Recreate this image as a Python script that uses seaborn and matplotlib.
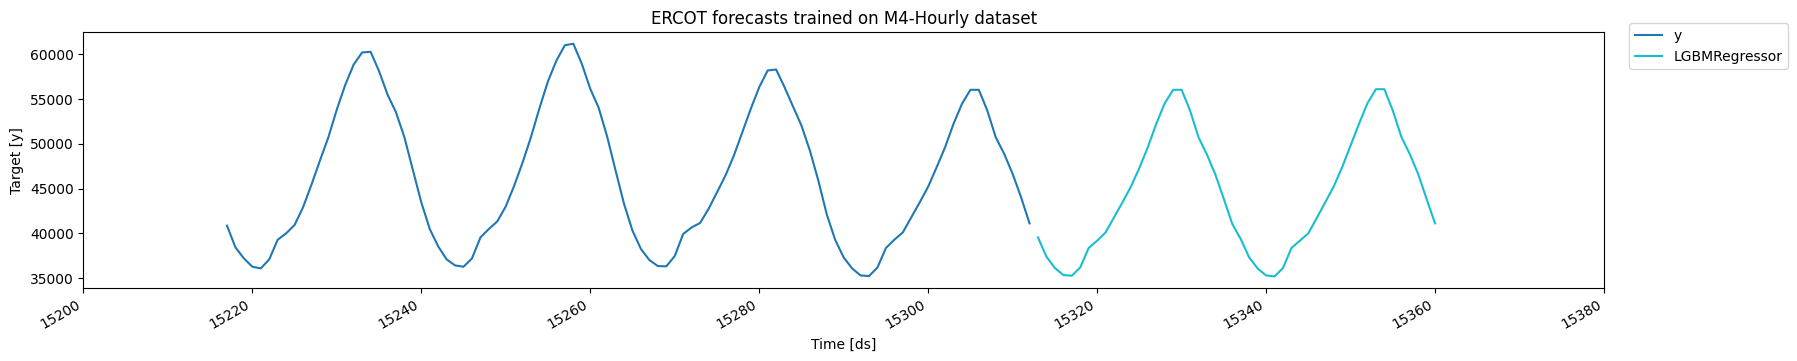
import numpy as np
import pandas as pd
import seaborn as sns
import matplotlib
matplotlib.use("Agg")
import matplotlib.pyplot as plt

# valores (ERCOT, M4-Hourly)
ds_hist = list(range(15217, 15313))
y_hist = [40850, 38425, 37195, 36264, 36077, 37084, 39284, 39993, 40925, 42900,
          45437, 48121, 50730, 53826, 56589, 58860, 60202, 60280, 58110, 55504,
          53524, 50730, 47081, 43457, 40481, 38535, 37084, 36409, 36264, 37195,
          39542, 40481, 41331, 43009, 45325, 47931, 50806, 54016, 56992, 59307,
          61019, 61175, 58938, 56142, 54016, 50806, 47003, 43278, 40291, 38244,
          37013, 36342, 36305, 37461, 39922, 40660, 41152, 42718, 44575, 46443,
          48680, 51287, 53904, 56320, 58189, 58300, 56320, 54162, 52036, 49240,
          45884, 42100, 39251, 37304, 36074, 35291, 35224, 36186, 38356, 39284,
          40101, 41779, 43457, 45213, 47372, 49609, 52226, 54464, 56030, 56030,
          53714, 50730, 48871, 46633, 44016, 41108]

ds_fcst = list(range(15313, 15361))
y_fcst = [39542, 37383, 36119, 35336, 35260, 36186, 38356, 39172, 40101, 41779,
          43457, 45213, 47305, 49609, 52226, 54531, 56030, 56030, 53714, 50730,
          48792, 46555, 43834, 41040, 39362, 37300, 36074, 35291, 35179, 36119,
          38356, 39172, 39993, 41712, 43457, 45213, 47372, 49799, 52226, 54531,
          56097, 56097, 53714, 50806, 48871, 46633, 43834, 41108]

serie_names = ["y", "LGBMRegressor"]
cores = {"y": "#1f77b4", "LGBMRegressor": "#17becf"}

df = pd.concat([
    pd.DataFrame({"ds": ds_hist, "valor": y_hist, "serie": "y"}),
    pd.DataFrame({"ds": ds_fcst, "valor": y_fcst, "serie": "LGBMRegressor"}),
])

fig = plt.figure(figsize=(17.97, 3.61), dpi=100)
ax = fig.add_axes([0.0464, 0.202, 0.8462, 0.709])

sns.lineplot(data=df, x="ds", y="valor", hue="serie", hue_order=serie_names,
             palette=cores, linewidth=1.5, ax=ax, legend=True)

ax.set_xlim(15200, 15380)
ax.set_xticks(np.arange(15200, 15381, 20))
ax.set_yticks(np.arange(35000, 60001, 5000))
for lbl in ax.get_xticklabels():
    lbl.set_rotation(30)
    lbl.set_ha("right")

ax.set_title("ERCOT forecasts trained on M4-Hourly dataset")
ax.set_xlabel("Time [ds]")
ax.set_ylabel("Target [y]")

handles, labels = ax.get_legend_handles_labels()
ax.get_legend().remove()
fig.legend(handles, labels, loc="upper left", bbox_to_anchor=(0.9065, 0.936),
           borderaxespad=0)

fig.savefig("out.png", dpi=100)
